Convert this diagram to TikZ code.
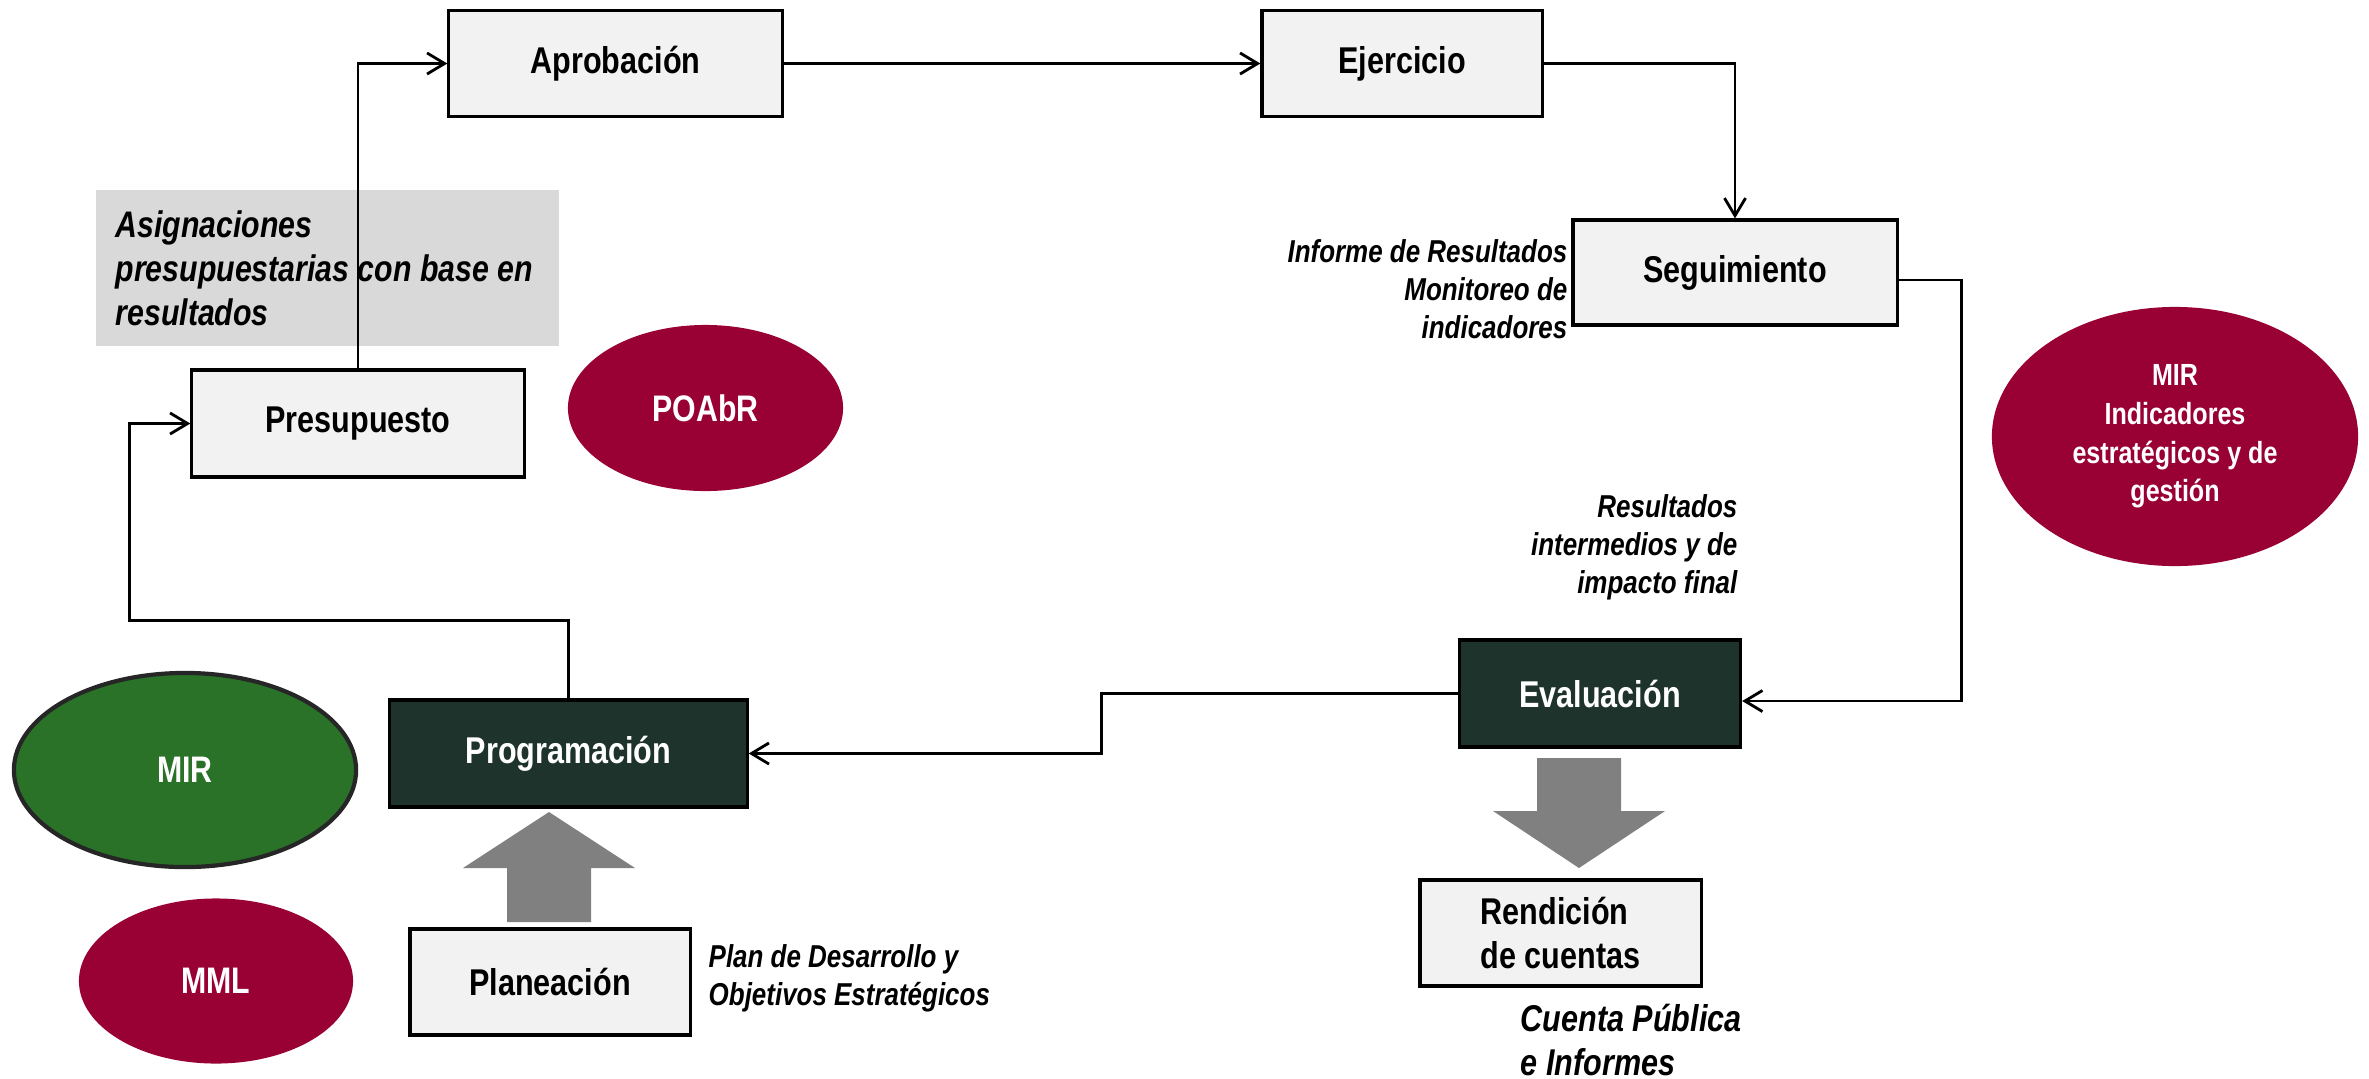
\documentclass[tikz,border=0pt]{standalone}
\usepackage{fontspec}
\setmainfont{Liberation Sans}[FakeStretch=0.82]
\usetikzlibrary{arrows.meta,shapes.geometric}
\definecolor{boxfill}{HTML}{F2F2F2}
\definecolor{darkbox}{HTML}{1F332D}
\definecolor{guinda}{HTML}{990033}
\definecolor{verde}{HTML}{2A7228}
\definecolor{grisbloque}{HTML}{D9D9D9}
\definecolor{grisflecha}{HTML}{808080}

\begin{document}
\begin{tikzpicture}[x=0.01cm,y=-0.01cm,
	caja/.style={draw=black,line width=0.9pt,fill=boxfill,inner sep=0pt,font=\fontsize{10.6}{12.5}\selectfont\bfseries},
	cajaosc/.style={caja,fill=darkbox,text=white},
	elipse/.style={ellipse,fill=guinda,text=white,inner sep=0pt,align=center},
	nota/.style={inner sep=0pt,font=\fontsize{9}{10.8}\selectfont\bfseries\itshape},
	conn/.style={line width=0.8pt,-{Straight Barb[length=5pt,width=6pt]}}]
	\useasboundingbox (0,0) rectangle (2369,1078);
	% bloque gris
	\fill[grisbloque] (96,190) rectangle (559,346);
	\node[anchor=west,align=left,inner sep=0pt,font=\fontsize{10.5}{12.5}\selectfont\bfseries\itshape] (asig) at (115,268)
		{Asignaciones\\presupuestarias con base en\\resultados};
	% cajas
	\node[caja,minimum width=3.33cm,minimum height=1.06cm] (apro) at (615.5,63.5) {Aprobación};
	\node[caja,minimum width=2.80cm,minimum height=1.06cm] (ejer) at (1402,63.5) {Ejercicio};
	\node[caja,minimum width=3.24cm,minimum height=1.05cm] (segu) at (1735,272.5) {Seguimiento};
	\node[caja,minimum width=3.32cm,minimum height=1.07cm] (pres) at (358,423.5) {Presupuesto};
	\node[cajaosc,minimum width=3.57cm,minimum height=1.07cm] (prog) at (568.5,753.5) {Programación};
	\node[cajaosc,minimum width=2.81cm,minimum height=1.07cm] (eval) at (1600,693.5) {Evaluación};
	\node[caja,minimum width=2.80cm,minimum height=1.06cm] (plan) at (550,982) {Planeación};
	\node[caja,minimum width=2.81cm,minimum height=1.06cm,align=left] (rend) at (1560.5,933) {Rendición\\de cuentas};
	% elipses
	\node[elipse,minimum width=2.75cm,minimum height=1.66cm,font=\fontsize{10.5}{12}\selectfont\bfseries] (poabr) at (705.5,408) {POAbR};
	\node[elipse,minimum width=3.66cm,minimum height=2.59cm,font=\fontsize{8.7}{11}\selectfont\bfseries] (mirind) at (2175,436.5)
		{MIR\\Indicadores\\estratégicos y de\\gestión};
	\node[elipse,fill=verde,draw=black!85,line width=1.2pt,minimum width=3.42cm,minimum height=1.94cm,font=\fontsize{10.5}{12}\selectfont\bfseries] (mir) at (185,770) {MIR};
	\node[elipse,minimum width=2.74cm,minimum height=1.65cm,font=\fontsize{10.5}{12}\selectfont\bfseries] (mml) at (216,981) {MML};
	% notas
	\node[nota,anchor=east,align=right] (info) at (1568,289) {Informe de Resultados\\Monitoreo de\\indicadores};
	\node[nota,anchor=east,align=right] (resu) at (1738,547) {Resultados\\intermedios y de\\impacto final};
	\node[nota,anchor=west,align=left] (plande) at (708,978) {Plan de Desarrollo y\\Objetivos Estratégicos};
	\node[nota,anchor=west,align=left,font=\fontsize{10.6}{12.5}\selectfont\bfseries\itshape] (cuenta) at (1520,1040) {Cuenta Pública\\e Informes};
	% flechas gruesas
	\fill[grisflecha] (507,922) -- (507,868) -- (463,868) -- (549,812) -- (635,868) -- (591,868) -- (591,922) -- cycle;
	\fill[grisflecha] (1537,758) -- (1621,758) -- (1621,811) -- (1665,811) -- (1579,868) -- (1493,811) -- (1537,811) -- cycle;
	% conectores
	\draw[conn] (pres.north) |- (apro.west);
	\draw[conn] (apro.east) -- (ejer.west);
	\draw[conn] (ejer.east) -| (segu.north);
	\draw[conn] ([yshift=-0.075cm]segu.east) -- ++(63,0) |- ([yshift=-0.075cm]eval.east);
	\draw[conn] (eval.west) -- ++(-356,0) |- (prog.east);
	\draw[conn] (prog.north) -- ++(0,-78) -- ++(-439,0) |- (pres.west);
\end{tikzpicture}
\end{document}
